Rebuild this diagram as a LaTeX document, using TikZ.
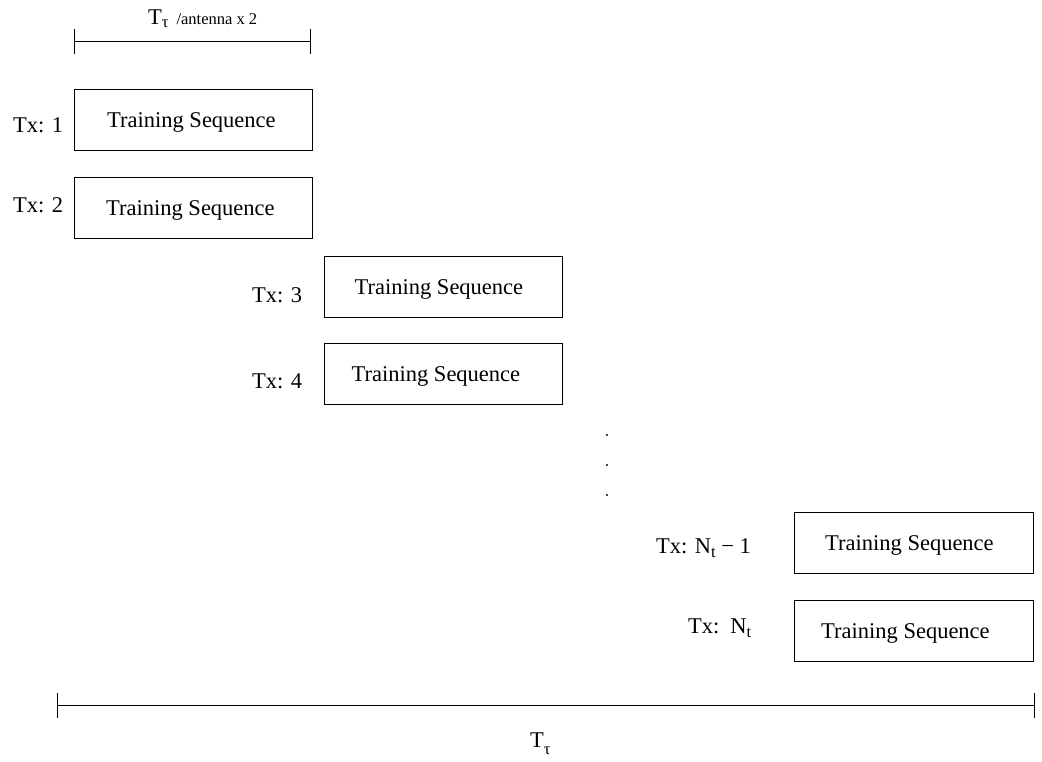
\documentclass[tikz,border=0pt]{standalone}
\usepackage{fontspec}
\setmainfont{Liberation Serif}
\newcommand{\bigf}{\fontsize{22.5}{27}\selectfont}
\newcommand{\smallf}{\fontsize{16.5}{19}\selectfont}
\begin{document}
\begin{tikzpicture}[x=1pt,y=-1pt,
  seqbox/.style={draw, line width=0.9pt, minimum width=238pt, minimum height=61pt,
    inner sep=0pt, anchor=north west, font=\bigf, text height=15pt, text depth=0pt},
  txlbl/.style={inner sep=0pt, anchor=base west, font=\bigf},
  dimline/.style={line width=0.9pt},
  dotmark/.style={circle, fill=black, inner sep=0pt, minimum size=2.4pt}
]
\useasboundingbox (0,0) rectangle (1042,762);

% top dimension
\coordinate (ta) at (74,41);
\coordinate (tb) at (310,41);
\draw[dimline] (ta) -- (tb);
\draw[dimline] ([yshift=12pt]ta) -- ([yshift=-13pt]ta);
\draw[dimline] ([yshift=12pt]tb) -- ([yshift=-13pt]tb);
\node[txlbl] (toplbl) at (148,25) {T\raisebox{-3pt}{\smallf τ}\kern 8pt{\smallf /antenna x 2}};

% boxes
\node[seqbox] (b1) at (74,89)  {Training Sequence\kern 4pt};
\node[seqbox] (b2) at (74,177) {Training Sequence\kern 6pt};
\node[seqbox] (b3) at (324,256) {Training Sequence\kern 9pt};
\node[seqbox] (b4) at (324,343) {Training Sequence\kern 15pt};
\node[seqbox, minimum width=239pt] (b5) at (794,512) {Training Sequence\kern 9pt};
\node[seqbox, minimum width=239pt] (b6) at (794,600) {Training Sequence\kern 17pt};

% labels
\node[txlbl] (l1) at (13,133) {Tx: 1};
\node[txlbl] (l2) at (13,213) {Tx: 2};
\node[txlbl] (l3) at (252,302) {Tx: 3};
\node[txlbl] (l4) at (252,388) {Tx: 4};
\node[txlbl] (l5) at (656,553) {Tx: N\raisebox{-4pt}{\smallf t} − 1};
\node[txlbl] (l6) at (688,633) {Tx:\kern 11pt N\raisebox{-4pt}{\smallf t}};

% dots
\node[dotmark] (d1) at (607,435) {};
\node[dotmark] (d2) at (607,465) {};
\node[dotmark] (d3) at (607,495) {};

% bottom dimension
\coordinate (ba) at (57,705);
\coordinate (bb) at (1034,705);
\draw[dimline] (ba) -- (bb);
\draw[dimline] ([yshift=12pt]ba) -- ([yshift=-13pt]ba);
\draw[dimline] ([yshift=12pt]bb) -- ([yshift=-13pt]bb);
\node[txlbl] (botlbl) at (530,747) {T\raisebox{-7pt}{\smallf τ}};
\end{tikzpicture}
\end{document}
